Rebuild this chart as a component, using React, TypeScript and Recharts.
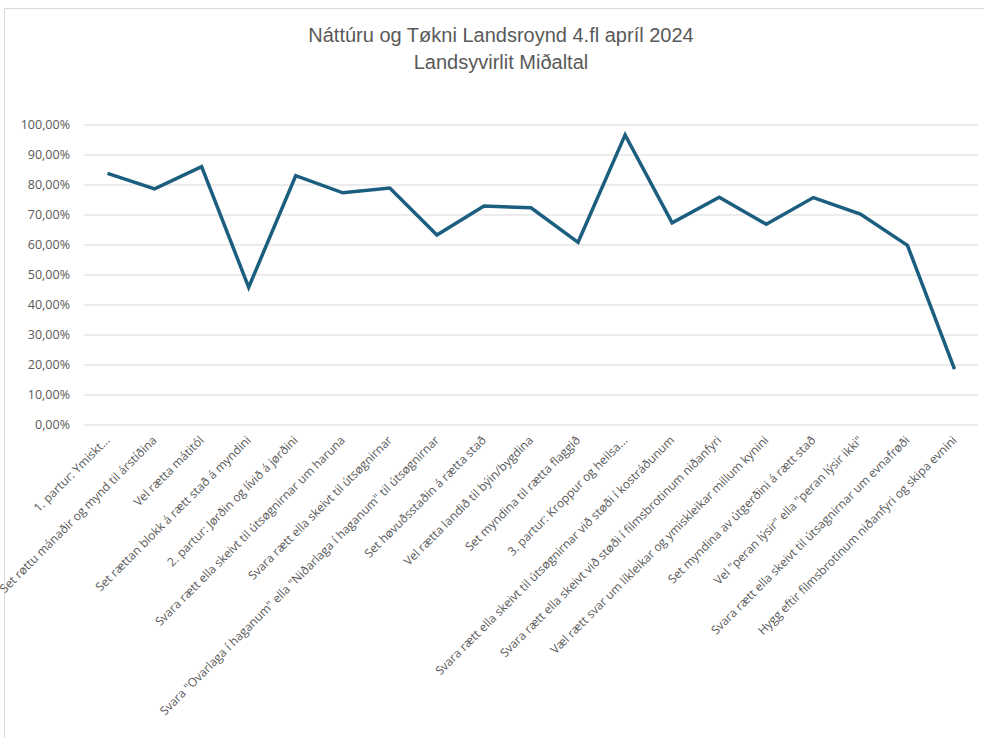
import { LineChart, Line, XAxis, YAxis, CartesianGrid } from 'recharts'

const categories = [
  '1. partur: Ymiskt...',
  'Set røttu mánaðir og mynd til árstíðina',
  'Vel rætta mátitól',
  'Set rættan blokk á rætt stað á myndini',
  '2. partur: Jørðin og lívið á jørðini',
  'Svara rætt ella skeivt til útsøgnirnar um haruna',
  'Svara rætt ella skeivt til útsøgnirnar',
  'Svara "Ovarlaga í haganum" ella "Niðarlaga í haganum" til útsøgnirnar',
  'Set høvuðsstaðin á rætta stað',
  'Vel rætta landið til býin/bygdina',
  'Set myndina til rætta flaggið',
  '3. partur: Kroppur og heilsa...',
  'Svara rætt ella skeivt til útsøgnirnar við støði í kostráðunum',
  'Svara rætt ella skeivt við støði í filmsbrotinum niðanfyri',
  'Væl rætt svar um líkleikar og ymiskleikar millum kynini',
  'Set myndina av útgerðini á rætt stað',
  'Vel "peran lýsir" ella "peran lýsir ikki"',
  'Svara rætt ella skeivt til útsagnirnar um evnafrøði',
  'Hygg eftir filmsbrotinum niðanfyri og skipa evnini',
]

const midaltal = [
  0.839, 0.787, 0.861, 0.459, 0.831, 0.774, 0.79, 0.633, 0.73, 0.724,
  0.609, 0.967, 0.674, 0.759, 0.669, 0.758, 0.703, 0.599, 0.186,
]

const yTicks = [0, 0.1, 0.2, 0.3, 0.4, 0.5, 0.6, 0.7, 0.8, 0.9, 1]

const data = categories.map((name, i) => ({ name, value: midaltal[i] }))

const fmtPct = (v: number) => (v * 100).toFixed(2).replace('.', ',') + '%'

const labelFont = '"Open Sans", "Noto Sans", sans-serif'

function XTick({ x, y, payload }: any) {
  const ax = x + 3
  const ay = y + 14
  return (
    <text
      x={ax}
      y={ay}
      textAnchor="end"
      fontSize={12}
      fontFamily={labelFont}
      fill="#595959"
      transform={`rotate(-45, ${ax}, ${ay})`}
    >
      {payload.value}
    </text>
  )
}

export default function App() {
  return (
    <div style={{ position: 'absolute', left: 0, top: 0, width: 984, height: 738, overflow: 'hidden', background: '#fff' }}>
      <div
        style={{
          position: 'absolute',
          left: 4,
          top: 8,
          width: 1000,
          height: 760,
          border: '1px solid #d9d9d9',
        }}
      />
      <div
        style={{
          position: 'absolute',
          left: 0,
          top: 22,
          width: 1002,
          textAlign: 'center',
          fontFamily: '"Liberation Sans Narrow", "Liberation Sans", sans-serif',
          fontSize: 20,
          lineHeight: '27px',
          color: '#595959',
        }}
      >
        <div>Náttúru og Tøkni Landsroynd 4.fl apríl 2024</div>
        <div>Landsyvirlit Miðaltal</div>
      </div>
      <div style={{ position: 'absolute', left: 0, top: 0 }}>
        <LineChart
          width={984}
          height={738}
          data={data}
          margin={{ top: 125, right: 6, bottom: 13, left: 0 }}
        >
          <CartesianGrid vertical={false} stroke="#d9d9d9" strokeWidth={1} />
          <XAxis
            dataKey="name"
            interval={0}
            axisLine={false}
            tickLine={false}
            tickSize={0}
            height={300}
            padding={{ left: 23.5, right: 23.5 }}
            tick={<XTick />}
          />
          <YAxis
            domain={[0, 1]}
            ticks={yTicks}
            tickFormatter={fmtPct}
            axisLine={false}
            tickLine={false}
            tickSize={0}
            tickMargin={14}
            width={84}
            tick={{ fontSize: 12.5, fill: '#595959', fontFamily: labelFont }}
          />
          <Line
            type="linear"
            dataKey="value"
            stroke="#1b5e7f"
            strokeWidth={3.5}
            dot={false}
            isAnimationActive={false}
          />
        </LineChart>
      </div>
    </div>
  )
}
